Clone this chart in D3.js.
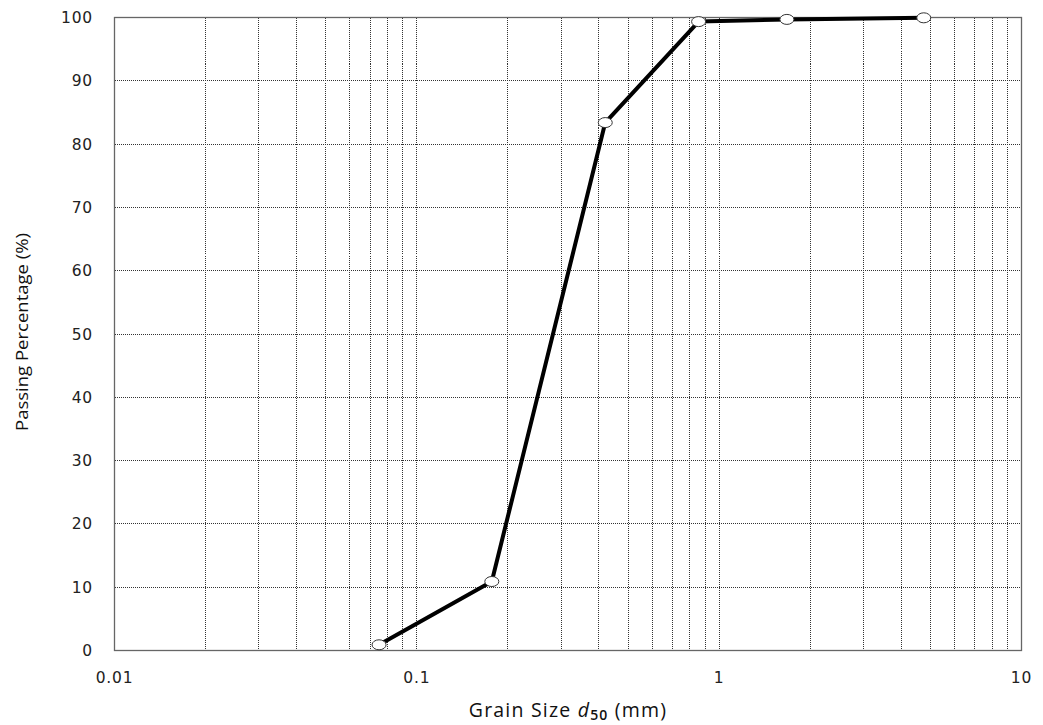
<!DOCTYPE html>
<html><head><meta charset="utf-8">
<script src="https://cdn.jsdelivr.net/npm/d3@7"></script>
<style>body{margin:0;background:#fff}</style>
</head><body>
<svg id="chart" width="1043" height="725"></svg>
<script>
const grainSize = [0.075, 0.177, 0.42, 0.855, 1.675, 4.75];
const passing = [0.9, 10.9, 83.4, 99.35, 99.7, 99.95];
const xTickLabels = ["0.01", "0.1", "1", "10"];
const yTickValues = [0,10,20,30,40,50,60,70,80,90,100];

const W = 1043, H = 725;
const m = {left:114.5, right:1021.5, top:17.5, bottom:650.5};
const svg = d3.select("#chart");
const x = d3.scaleLog().domain([0.01, 10]).range([m.left, m.right]);
const y = d3.scaleLinear().domain([0, 100]).range([m.bottom, m.top]);

const gridX = [];
for (let d = 0.01; d < 10; d *= 10) for (let k = 1; k <= 9; k++) { const v = +(d*k).toPrecision(3); if (v > 0.01) gridX.push(v); }
svg.append("g").selectAll("line").data(gridX.filter(v=>v<10)).join("line")
  .attr("x1", d=>x(d)).attr("x2", d=>x(d)).attr("y1", m.top).attr("y2", m.bottom)
  .attr("stroke", "#333").attr("stroke-width", 1).attr("stroke-dasharray", "1,1")
  .attr("shape-rendering", "crispEdges");
svg.append("g").selectAll("line").data(yTickValues.filter(v=>v>0&&v<100)).join("line")
  .attr("x1", m.left).attr("x2", m.right).attr("y1", d=>y(d)).attr("y2", d=>y(d))
  .attr("stroke", "#333").attr("stroke-width", 1).attr("stroke-dasharray", "1,1")
  .attr("shape-rendering", "crispEdges");

svg.append("rect").attr("x", m.left).attr("y", m.top).attr("width", m.right-m.left).attr("height", m.bottom-m.top)
  .attr("fill", "none").attr("stroke", "#666").attr("stroke-width", 1.3);

svg.append("g").selectAll("text").data(yTickValues).join("text")
  .attr("x", 93).attr("y", d=>y(d)).attr("dy", "0.36em").attr("text-anchor", "end")
  .attr("font-family", "DejaVu Sans").attr("font-size", 15.5).attr("letter-spacing", 0.8).attr("fill", "#222")
  .text(d=>d);
svg.append("g").selectAll("text").data(xTickLabels).join("text")
  .attr("x", d=>x(+d)).attr("y", 683).attr("text-anchor", "middle")
  .attr("font-family", "DejaVu Sans").attr("font-size", 15.5).attr("letter-spacing", 0.8).attr("fill", "#222")
  .text(d=>d);

const pts = grainSize.map((g,i)=>[g, passing[i]]);
svg.append("path").datum(pts)
  .attr("d", d3.line().x(d=>x(d[0])).y(d=>y(d[1])))
  .attr("fill", "none").attr("stroke", "#000").attr("stroke-width", 4).attr("stroke-linejoin", "round");
svg.append("g").selectAll("ellipse").data(pts).join("ellipse")
  .attr("cx", d=>x(d[0])).attr("cy", d=>y(d[1])).attr("rx", 7).attr("ry", 5)
  .attr("fill", "#fff").attr("stroke", "#333").attr("stroke-width", 1);

const xt = svg.append("text").attr("x", 568).attr("y", 717).attr("text-anchor", "middle")
  .attr("font-family", "Open Sans").attr("font-size", 19.5).attr("letter-spacing", 1.2).attr("fill", "#111");
xt.append("tspan").text("Grain Size ");
xt.append("tspan").attr("font-style", "italic").text("d");
xt.append("tspan").attr("font-weight", "600").attr("font-size", 14).attr("dy", 3).text("50");
xt.append("tspan").attr("dy", -3).text(" (mm)");

svg.append("text").attr("transform", "translate(28,332) rotate(-90)").attr("text-anchor", "middle")
  .attr("font-family", "Open Sans").attr("font-size", 16).attr("fill", "#111")
  .attr("textLength", 198).attr("lengthAdjust", "spacingAndGlyphs")
  .text("Passing Percentage (%)");
</script>
</body></html>
